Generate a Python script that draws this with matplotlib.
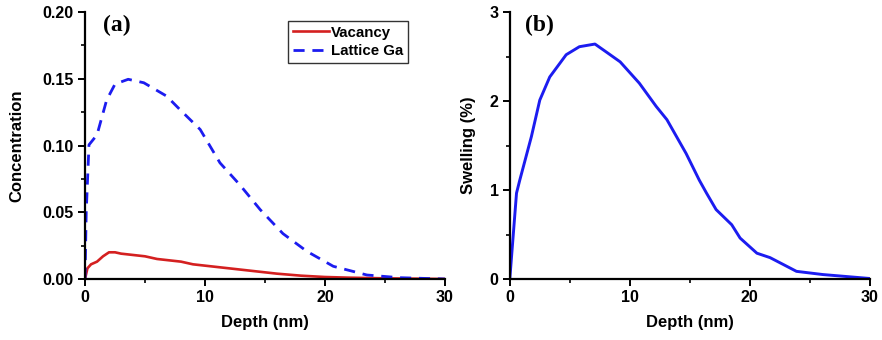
import matplotlib
matplotlib.use("Agg")
import matplotlib.pyplot as plt
from matplotlib.ticker import MultipleLocator, FormatStrFormatter

plt.rcParams['font.family'] = ['Liberation Sans', 'DejaVu Sans']
plt.rcParams['font.weight'] = 'bold'

# Panel (a): concentration profiles
ga_depth = [0, 0.1, 0.33, 1.0, 1.8, 2.5, 3.6, 4.9, 6.8, 7.9, 9.6, 11.25, 12.9, 14.6,
            16.5, 18.5, 20.7, 23.5, 26.2, 30]
lattice_ga = [0, 0.05, 0.1005, 0.108, 0.134, 0.146, 0.1496, 0.147, 0.137, 0.127, 0.112,
              0.087, 0.0706, 0.052, 0.034, 0.0207, 0.0095, 0.003, 0.001, 0]

vac_depth = [0, 0.2, 0.5, 1, 1.5, 2, 2.5, 3, 4, 5, 6, 7, 8, 9, 10, 12, 14, 16, 18,
             20, 22, 25, 30]
vacancy = [0, 0.008, 0.011, 0.013, 0.017, 0.02, 0.02, 0.019, 0.018, 0.017, 0.015,
           0.014, 0.013, 0.011, 0.010, 0.008, 0.006, 0.004, 0.0025, 0.0015, 0.001,
           0.0005, 0]

# Panel (b): swelling profile
sw_depth = [0, 0.56, 0.83, 1.8, 2.5, 3.33, 4.7, 5.8, 7.1, 8.05, 9.2, 10.8, 12.2, 13.1,
            14.7, 15.8, 16.4, 17.2, 18.5, 19.2, 20.6, 21.7, 23.9, 26.1, 29.9]
swelling = [0, 0.965, 1.11, 1.6, 2.01, 2.27, 2.52, 2.61, 2.64, 2.55, 2.44, 2.2, 1.94,
            1.79, 1.41, 1.11, 0.965, 0.78, 0.61, 0.46, 0.29, 0.24, 0.086, 0.05, 0.007]

fig = plt.figure(figsize=(8.82, 3.4), dpi=100)
ax1 = fig.add_axes([0.0964, 0.1794, 0.408, 0.7853])
ax2 = fig.add_axes([0.578, 0.1794, 0.408, 0.7853])


def style_axis(ax):
    for side in ('top', 'right'):
        ax.spines[side].set_visible(False)
    for side in ('left', 'bottom'):
        ax.spines[side].set_linewidth(1.6)
    ax.tick_params(which='major', direction='out', length=5, width=1.4, labelsize=11.5, pad=3)
    ax.tick_params(which='minor', direction='out', length=3, width=1.2)
    ax.set_xlim(0, 30)
    ax.xaxis.set_major_locator(MultipleLocator(10))
    ax.xaxis.set_minor_locator(MultipleLocator(5))
    ax.set_xlabel("Depth (nm)", fontsize=12, fontweight='bold', labelpad=7)


# Plot 1: concentration
ax1.plot(vac_depth, vacancy, color='#d42020', lw=1.9, label='Vacancy')
ax1.plot(ga_depth, lattice_ga, color='#1c1cf0', lw=2.0, ls=(0, (4, 2.8)), label='Lattice Ga')
style_axis(ax1)
ax1.set_ylim(0, 0.2)
ax1.yaxis.set_major_locator(MultipleLocator(0.05))
ax1.yaxis.set_minor_locator(MultipleLocator(0.025))
ax1.yaxis.set_major_formatter(FormatStrFormatter('%.2f'))
ax1.set_ylabel("Concentration", fontsize=12, fontweight='bold', labelpad=13)
ax1.text(0.05, 0.948, "(a)", transform=ax1.transAxes, fontsize=17, fontweight='bold',
         family='Liberation Serif', va='center')
leg = ax1.legend(loc='upper right', bbox_to_anchor=(0.897, 0.966), borderaxespad=0,
                 fontsize=10.8, handlelength=2.4, handletextpad=0.15, borderpad=0.3,
                 labelspacing=0.3, fancybox=False, framealpha=1)
leg.get_frame().set_edgecolor('#333333')
leg.get_frame().set_linewidth(1.0)

# Plot 2: swelling
ax2.plot(sw_depth, swelling, color='#1c1cf0', lw=2.1)
style_axis(ax2)
ax2.set_ylim(0, 3)
ax2.yaxis.set_major_locator(MultipleLocator(1))
ax2.yaxis.set_minor_locator(MultipleLocator(0.5))
ax2.set_ylabel("Swelling (%)", fontsize=12, fontweight='bold', labelpad=10)
ax2.text(0.042, 0.948, "(b)", transform=ax2.transAxes, fontsize=17, fontweight='bold',
         family='Liberation Serif', va='center')

plt.savefig("out.png", dpi=100)
plt.close()
